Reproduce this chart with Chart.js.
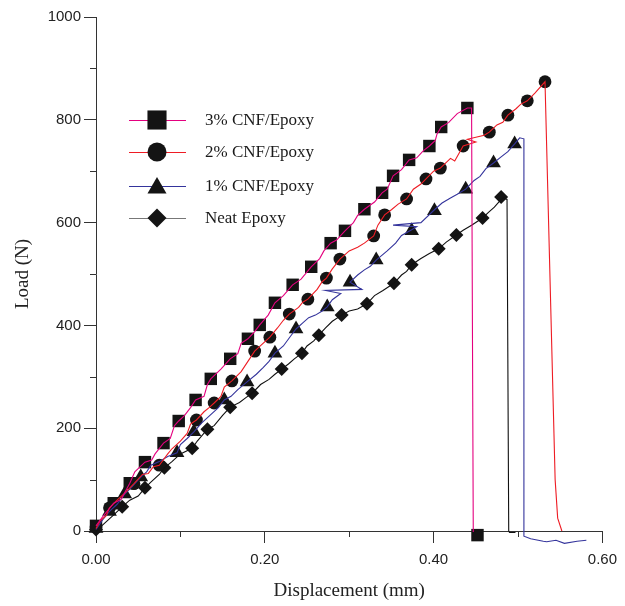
<!DOCTYPE html>
<html>
<head>
<meta charset="utf-8">
<script src="https://cdn.jsdelivr.net/npm/chart.js@4.4.1/dist/chart.umd.min.js"></script>
<style>
  html, body { margin: 0; padding: 0; background: #fff; }
  #wrap { width: 625px; height: 606px; }
</style>
</head>
<body>
<div id="wrap"><canvas id="chart" width="625" height="606"></canvas></div>
<script>
// Series names
const seriesNames = ["3% CNF/Epoxy", "2% CNF/Epoxy", "1% CNF/Epoxy", "Neat Epoxy"];

// Traced load-displacement curves [displacement mm, load N]
const cnf3Line = [[0,10],[0.008,28],[0.021,54],[0.03,62],[0.04,93],[0.046,115],[0.058,134],[0.066,138],[0.07,150],[0.08,171],[0.088,180],[0.093,205],[0.098,214],[0.105,225],[0.112,240],[0.118,255],[0.128,262],[0.132,285],[0.136,296],[0.148,315],[0.159,335],[0.168,345],[0.172,365],[0.18,374],[0.188,388],[0.194,401],[0.204,420],[0.212,444],[0.222,458],[0.233,479],[0.243,490],[0.255,514],[0.265,530],[0.27,545],[0.278,560],[0.285,566],[0.295,584],[0.305,600],[0.31,614],[0.318,626],[0.33,640],[0.339,658],[0.345,665],[0.352,691],[0.362,703],[0.371,722],[0.38,726],[0.388,740],[0.395,749],[0.402,760],[0.404,772],[0.409,786],[0.418,795],[0.428,812],[0.44,823],[0.445,823],[0.446,400],[0.447,-2]];
const cnf2Line = [[0,5],[0.005,20],[0.012,30],[0.016,45],[0.025,60],[0.035,75],[0.045,92],[0.055,110],[0.062,112],[0.068,125],[0.075,128],[0.085,150],[0.09,160],[0.1,175],[0.108,190],[0.112,208],[0.119,216],[0.128,232],[0.134,240],[0.14,249],[0.148,262],[0.152,280],[0.161,292],[0.172,310],[0.18,330],[0.188,350],[0.196,362],[0.206,377],[0.215,395],[0.222,410],[0.229,422],[0.24,435],[0.245,445],[0.251,451],[0.262,470],[0.268,485],[0.273,492],[0.28,510],[0.289,529],[0.3,545],[0.31,552],[0.318,560],[0.329,574],[0.334,595],[0.342,615],[0.35,625],[0.358,636],[0.368,646],[0.376,665],[0.385,675],[0.391,685],[0.4,700],[0.408,706],[0.42,725],[0.425,720],[0.435,749],[0.45,757],[0.44,762],[0.46,770],[0.466,776],[0.475,790],[0.482,795],[0.488,809],[0.498,822],[0.503,830],[0.511,837],[0.52,852],[0.532,874],[0.544,100],[0.547,25],[0.552,0]];
const cnf1Line = [[0,3],[0.008,22],[0.016,38],[0.025,52],[0.034,72],[0.042,85],[0.053,105],[0.06,115],[0.065,128],[0.075,135],[0.085,145],[0.096,152],[0.1,168],[0.108,180],[0.116,193],[0.125,210],[0.135,225],[0.145,240],[0.152,255],[0.16,262],[0.168,275],[0.179,290],[0.19,305],[0.198,318],[0.205,330],[0.212,346],[0.222,360],[0.23,378],[0.237,393],[0.245,405],[0.252,415],[0.26,420],[0.268,428],[0.274,436],[0.28,450],[0.29,462],[0.272,468],[0.315,470],[0.301,484],[0.31,498],[0.318,508],[0.325,515],[0.332,527],[0.345,545],[0.355,560],[0.362,575],[0.374,586],[0.38,592],[0.352,595],[0.385,600],[0.401,625],[0.41,638],[0.42,648],[0.428,655],[0.438,665],[0.448,682],[0.455,690],[0.462,705],[0.471,716],[0.48,728],[0.488,738],[0.496,753],[0.502,765],[0.507,763],[0.507,-10],[0.515,-15],[0.53,-20],[0.534,-21],[0.545,-18],[0.555,-24],[0.57,-20],[0.581,-18]];
const neatLine = [[0,0],[0.01,15],[0.02,30],[0.031,47],[0.04,60],[0.05,68],[0.058,84],[0.065,95],[0.075,110],[0.081,123],[0.09,135],[0.1,150],[0.114,161],[0.12,175],[0.132,198],[0.14,205],[0.15,225],[0.159,241],[0.17,250],[0.178,260],[0.185,268],[0.195,285],[0.205,295],[0.212,305],[0.22,315],[0.228,325],[0.235,335],[0.244,346],[0.25,360],[0.258,370],[0.264,381],[0.272,395],[0.28,408],[0.291,420],[0.3,428],[0.31,432],[0.321,442],[0.33,458],[0.34,468],[0.353,482],[0.362,498],[0.368,505],[0.374,518],[0.385,530],[0.395,540],[0.406,549],[0.415,562],[0.427,576],[0.435,585],[0.445,595],[0.458,609],[0.465,620],[0.472,630],[0.48,645],[0.483,648],[0.487,645],[0.489,0],[0.49,-3],[0.497,-3]];

// Symbol positions on each curve
const cnf3Marks = [[0,10],[0.021,54],[0.040,93],[0.058,134],[0.080,171],[0.098,214],[0.118,255],[0.136,296],[0.159,335],[0.180,374],[0.194,401],[0.212,444],[0.233,479],[0.255,514],[0.278,560],[0.295,584],[0.318,626],[0.339,658],[0.352,691],[0.371,722],[0.395,749],[0.409,786],[0.440,823],[0.452,-8]];
const cnf2Marks = [[0,8],[0.016,45],[0.045,92],[0.075,128],[0.119,216],[0.140,249],[0.161,292],[0.188,350],[0.206,377],[0.229,422],[0.251,451],[0.273,492],[0.289,529],[0.329,574],[0.342,615],[0.368,646],[0.391,685],[0.408,706],[0.435,749],[0.466,776],[0.488,809],[0.511,837],[0.532,874]];
const cnf1Marks = [[0,5],[0.016,38],[0.034,72],[0.053,105],[0.096,152],[0.116,193],[0.152,255],[0.179,290],[0.212,346],[0.237,393],[0.274,436],[0.301,484],[0.332,527],[0.374,584],[0.401,623],[0.438,665],[0.471,716],[0.496,753],[0.534,-21],[0.555,-24]];
const neatMarks = [[0,3],[0.031,47],[0.058,84],[0.081,123],[0.114,161],[0.132,198],[0.159,241],[0.185,268],[0.220,315],[0.244,346],[0.264,381],[0.291,420],[0.321,442],[0.353,482],[0.374,518],[0.406,549],[0.427,576],[0.458,609],[0.480,650]];

// Axis ticks
const xTicks = [0, 0.2, 0.4, 0.6];
const xMinorTicks = [0.1, 0.3, 0.5];
const yTicks = [0, 200, 400, 600, 800, 1000];
const yMinorTicks = [100, 300, 500, 700, 900];

const lineColors = ["#e4007f", "#ee1c24", "#34349c", "#111111"];
const markerShapes = ["rect", "circle", "triangle", "rectRot"];
const markerRadius = [8.8, 6.4, 8.5, 7];
const legendRadius = [13.5, 9.5, 11, 9.5];

const toXY = (arr) => arr.map((p) => ({ x: p[0], y: p[1] }));

const lineSets = [cnf3Line, cnf2Line, cnf1Line, neatLine];
const markSets = [cnf3Marks, cnf2Marks, cnf1Marks, neatMarks];

const datasets = [];
// lines first, drawn under the symbols
lineSets.forEach((line, i) => {
    datasets.push({
        label: seriesNames[i],
        data: toXY(line),
        borderColor: lineColors[i],
        borderWidth: 1.1,
        pointRadius: 0,
        fill: false,
        tension: 0,
        clip: false
    });
});
markSets.forEach((marks, i) => {
    datasets.push({
        label: seriesNames[i] + " symbols",
        data: toXY(marks),
        showLine: false,
        pointStyle: markerShapes[i],
        pointRadius: markerRadius[i],
        pointBackgroundColor: "#141414",
        pointBorderColor: "#141414",
        pointBorderWidth: 0,
        clip: false
    });
});

// minor ticks and the inside legend
const extrasPlugin = {
    id: "extras",
    afterDraw(chart) {
        const ctx = chart.ctx;
        const xs = chart.scales.x;
        const ys = chart.scales.y;
        ctx.save();
        ctx.strokeStyle = "#333";
        ctx.lineWidth = 1;
        yMinorTicks.forEach((v) => {
            const py = Math.round(ys.getPixelForValue(v)) + 0.5;
            ctx.beginPath();
            ctx.moveTo(xs.left - 6, py);
            ctx.lineTo(xs.left, py);
            ctx.stroke();
        });
        xMinorTicks.forEach((v) => {
            const px = Math.round(xs.getPixelForValue(v)) + 0.5;
            ctx.beginPath();
            ctx.moveTo(px, ys.bottom);
            ctx.lineTo(px, ys.bottom + 6);
            ctx.stroke();
        });

        // legend
        const rowsY = [120, 152, 186, 218];
        seriesNames.forEach((name, i) => {
            const y = rowsY[i];
            ctx.strokeStyle = i === 3 ? "#777" : lineColors[i];
            ctx.lineWidth = 1.2;
            ctx.beginPath();
            ctx.moveTo(129, y + 0.5);
            ctx.lineTo(186, y + 0.5);
            ctx.stroke();
            ctx.fillStyle = "#141414";
            ctx.strokeStyle = "#141414";
            Chart.helpers.drawPoint(ctx, {
                pointStyle: markerShapes[i],
                radius: legendRadius[i],
                rotation: 0,
                borderWidth: 0
            }, 157, y + (i === 2 ? 2 : 0));
            ctx.fillStyle = "#1a1a1a";
            ctx.font = "17px 'Liberation Serif', 'Times New Roman', serif";
            ctx.textBaseline = "middle";
            ctx.textAlign = "left";
            ctx.fillText(name, 205, y + 1);
        });
        ctx.restore();
    }
};

const ctx = document.getElementById("chart").getContext("2d");
new Chart(ctx, {
    type: "line",
    data: { datasets: datasets },
    options: {
        responsive: false,
        animation: false,
        layout: { padding: { left: 0, top: 17, right: 19, bottom: 0 } },
        plugins: {
            legend: { display: false },
            tooltip: { enabled: false }
        },
        scales: {
            x: {
                type: "linear",
                min: 0,
                max: 0.6,
                afterFit: (s) => { s.height = 75; },
                afterBuildTicks: (s) => { s.ticks = xTicks.map((v) => ({ value: v })); },
                grid: { drawOnChartArea: false, drawTicks: true, tickLength: 12, color: "#333" },
                border: { display: true, color: "#333", width: 1 },
                ticks: {
                    color: "#222",
                    padding: 8,
                    maxRotation: 0,
                    font: { family: "'Liberation Sans', Arial, sans-serif", size: 15 },
                    callback: (v) => Number(v).toFixed(2)
                },
                title: {
                    display: true,
                    text: "Displacement (mm)",
                    color: "#222",
                    padding: { top: 0, bottom: 4 },
                    font: { family: "'Liberation Serif', 'Times New Roman', serif", size: 19 }
                }
            },
            y: {
                type: "linear",
                min: 0,
                max: 1000,
                afterFit: (s) => { s.width = 96; },
                afterBuildTicks: (s) => { s.ticks = yTicks.map((v) => ({ value: v })); },
                grid: { drawOnChartArea: false, drawTicks: true, tickLength: 12, color: "#333" },
                border: { display: true, color: "#333", width: 1 },
                ticks: {
                    color: "#222",
                    padding: 3,
                    font: { family: "'Liberation Sans', Arial, sans-serif", size: 15 },
                    callback: (v) => String(v)
                },
                title: {
                    display: true,
                    text: "Load (N)",
                    color: "#222",
                    padding: { top: 12, bottom: 0 },
                    font: { family: "'Liberation Serif', 'Times New Roman', serif", size: 19 }
                }
            }
        }
    },
    plugins: [extrasPlugin]
});
</script>
</body>
</html>
